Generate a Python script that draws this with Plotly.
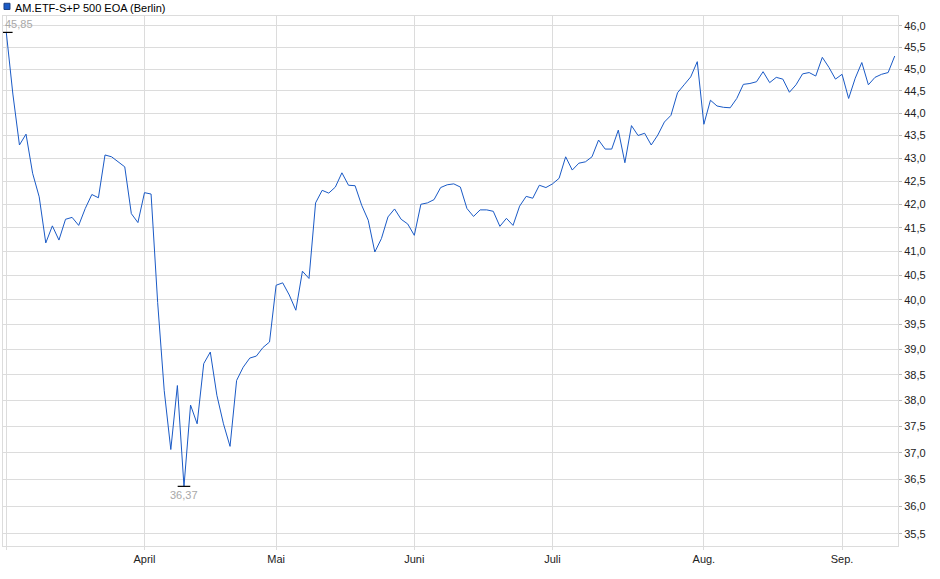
import math
import pandas as pd
import plotly.graph_objects as go

# trading days at Börse Berlin, 03.03.2025 - 11.09.2025
holidays = ["2025-04-18", "2025-04-21", "2025-05-01"]
dates = [d.strftime("%Y-%m-%d") for d in pd.bdate_range("2025-03-03", "2025-09-11")
         if d.strftime("%Y-%m-%d") not in holidays]

closes = [
    45.85, 44.43, 43.29, 43.53, 42.67, 42.16, 41.18, 41.54, 41.24, 41.68,
    41.72, 41.55, 41.91, 42.21, 42.14, 43.07, 43.03, 42.92, 42.81, 41.80,
    41.61, 42.25, 42.22, 39.95, 38.19, 37.06, 38.29, 36.37, 37.91, 37.55,
    38.72, 38.95, 38.10, 37.55, 37.12, 38.39, 38.65, 38.83, 38.87, 39.04,
    39.15, 40.30, 40.35, 40.10, 39.79, 40.59, 40.44, 42.03, 42.30, 42.24,
    42.37, 42.68, 42.41, 42.40, 41.98, 41.66, 40.99, 41.27, 41.73, 41.90,
    41.68, 41.58, 41.34, 42.00, 42.03, 42.10, 42.36, 42.42, 42.44, 42.37,
    41.91, 41.74, 41.88, 41.88, 41.85, 41.53, 41.70, 41.55, 41.96, 42.17,
    42.13, 42.41, 42.36, 42.44, 42.56, 43.03, 42.74, 42.89, 42.92, 43.03,
    43.40, 43.20, 43.20, 43.62, 42.90, 43.72, 43.50, 43.55, 43.29, 43.51,
    43.80, 43.95, 44.46, 44.64, 44.82, 45.17, 43.75, 44.29, 44.16, 44.13,
    44.12, 44.33, 44.65, 44.67, 44.71, 44.94, 44.69, 44.81, 44.77, 44.47,
    44.64, 44.89, 44.92, 44.84, 45.27, 45.04, 44.77, 44.88, 44.33, 44.79,
    45.15, 44.64, 44.81, 44.88, 44.92, 45.30,
]

month_starts = ["2025-03-03", "2025-04-01", "2025-05-02", "2025-06-02", "2025-07-01", "2025-08-01", "2025-09-01"]
month_labels = ["", "April", "Mai", "Juni", "Juli", "Aug.", "Sep."]

y_ticks = [35.5, 36.0, 36.5, 37.0, 37.5, 38.0, 38.5, 39.0, 39.5, 40.0, 40.5,
           41.0, 41.5, 42.0, 42.5, 43.0, 43.5, 44.0, 44.5, 45.0, 45.5, 46.0]

name = "AM.ETF-S+P 500 EOA (Berlin)"
blue = "#1a5ac6"
grid = "#dcdcdc"

def de(v, n):
    return f"{v:.{n}f}".replace(".", ",")

i_max = closes.index(max(closes))
i_min = closes.index(min(closes))

fig = go.Figure()
fig.add_trace(go.Scatter(x=dates, y=closes, mode="lines",
                         line=dict(color=blue, width=1), hoverinfo="skip"))
# high / low markers
fig.add_trace(go.Scatter(x=[dates[i_max], dates[i_min]], y=[closes[i_max], closes[i_min]],
                         mode="markers", hoverinfo="skip",
                         marker=dict(symbol="line-ew", size=9, line=dict(color="black", width=1.2))))

fig.add_annotation(x=dates[i_max], y=math.log10(closes[i_max]), text=de(closes[i_max], 2),
                   xanchor="left", yanchor="bottom", showarrow=False, xshift=-3, yshift=0,
                   font=dict(color="#a8a8a8", size=11))
fig.add_annotation(x=dates[i_min], y=math.log10(closes[i_min]), text=de(closes[i_min], 2),
                   xanchor="center", yanchor="top", showarrow=False, yshift=-1,
                   font=dict(color="#a8a8a8", size=11))

# legend box + title
fig.add_shape(type="rect", xref="paper", yref="paper", x0=0.0011, x1=0.0078,
              y0=1.0123, y1=1.024, fillcolor=blue, line=dict(color="#1a3f80", width=1))
fig.add_annotation(xref="paper", yref="paper", x=0.0134, y=1.031, text=name,
                   xanchor="left", yanchor="top", showarrow=False, xshift=-2,
                   font=dict(color="black", size=11))

fig.update_xaxes(type="category", tickmode="array", tickvals=month_starts, ticktext=month_labels,
                 range=[-0.5, len(dates) - 0.5], showgrid=True, gridcolor=grid, gridwidth=1,
                 showline=True, linecolor=grid, mirror=True, ticks="outside", ticklen=3,
                 tickcolor=grid, tickfont=dict(size=11, color="#222"), zeroline=False)
fig.update_yaxes(type="log", side="right", tickmode="array", tickvals=y_ticks,
                 ticktext=[de(v, 1) for v in y_ticks],
                 range=[math.log10(35.28), math.log10(46.235)], showgrid=True, gridcolor=grid,
                 gridwidth=1, showline=True, linecolor=grid, mirror=True, ticks="outside",
                 ticklen=3, tickcolor="#bbbbbb", tickfont=dict(size=11, color="#222"),
                 zeroline=False)

fig.update_layout(width=940, height=579, margin=dict(l=3, r=42, t=16, b=33),
                  plot_bgcolor="white", paper_bgcolor="white", showlegend=False,
                  font=dict(family="Liberation Sans, Arial, sans-serif"),
                  separators=",.")

fig.write_html("out.html", config={"displayModeBar": False},
               post_script="document.body.style.margin='0';")
